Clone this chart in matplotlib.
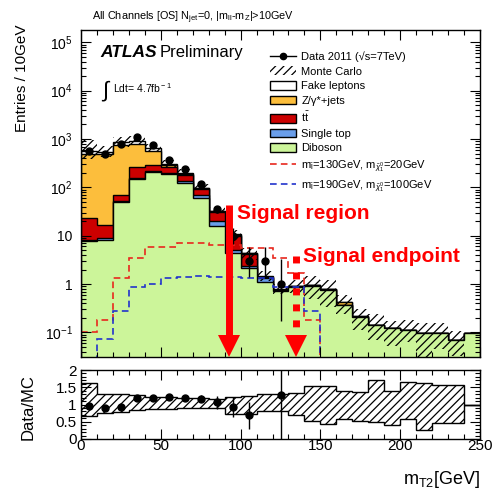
import math
import numpy as np
import matplotlib
matplotlib.use('Agg')
import matplotlib.pyplot as plt
import matplotlib.transforms as mtransforms
from matplotlib.patches import Patch
from matplotlib.lines import Line2D

plt.rcParams['font.family'] = ['Liberation Sans', 'DejaVu Sans']
plt.rcParams['mathtext.fontset'] = 'custom'
plt.rcParams['mathtext.rm'] = 'Liberation Sans'
plt.rcParams['mathtext.it'] = 'Liberation Sans:italic'
plt.rcParams['mathtext.bf'] = 'Liberation Sans:bold'
plt.rcParams['hatch.linewidth'] = 0.9

# --- data: mT2 in 10 GeV bins from 0 to 250 ---
edges = np.arange(0, 251, 10)

data = np.array([560, 490, 790, 1090, 760, 370, 240, 115, 35, 10, 3, 3, 1,
                 0, 0, 0, 0, 0, 0, 0, 0, 0, 0, 0, 0])

diboson = np.array([7.7, 8.0, 49, 150, 210, 185, 123, 60, 16, 4.3, 2.1, 1.1, 0.72,
                    0.88, 0.92, 0.76, 0.37, 0.21, 0.14, 0.125, 0.11, 0.098, 0.098, 0.07, 0.098])
single_top = np.array([0.5, 0.8, 4, 8, 10, 12, 10, 8, 4, 0.7, 0.3, 0.25, 0.03,
                       0.01, 0.01, 0.01, 0, 0, 0, 0, 0, 0, 0, 0, 0])
ttbar = np.array([15, 7.7, 15, 100, 65, 70, 45, 25, 11, 5, 1.7, 0.05, 0.02,
                  0.01, 0.01, 0.01, 0, 0, 0, 0, 0, 0, 0, 0, 0])
zjets = np.array([477, 485, 700, 550, 290, 20, 10, 2, 1, 0.5, 0.2, 0, 0,
                  0, 0, 0, 0.06, 0.01, 0, 0, 0, 0, 0, 0, 0])
fakes = np.array([77, 50, 90, 100, 70, 20, 12, 3, 1, 0.3, 0.1, 0.05, 0.01,
                  0, 0, 0, 0, 0, 0, 0, 0, 0, 0, 0, 0])

# relative MC uncertainty (as seen in the ratio panel)
unc_hi = np.array([1.63, 1.31, 1.31, 1.27, 1.23, 1.21, 1.2, 1.19, 1.17, 1.22, 1.25, 1.29, 1.31,
                   1.34, 1.55, 1.55, 1.38, 1.36, 1.72, 1.40, 1.65, 1.63, 1.56, 1.56, 1.0])
unc_lo = np.array([0.66, 0.76, 0.78, 0.84, 0.87, 0.88, 0.89, 0.9, 0.91, 0.73, 0.73, 0.8, 0.8,
                   0.71, 0.52, 0.44, 0.57, 0.52, 0.49, 0.42, 0.57, 0.25, 0.47, 0.47, 1.0])

# signal points
sig_130_20 = np.array([0.1, 0.18, 1.33, 3.4, 5.9, 5.9, 7.0, 7.0, 6.4, 6.4, 5.5, 5.5, 3.4,
                       1.7, 0.18, 0, 0, 0, 0, 0, 0, 0, 0, 0, 0])
sig_190_100 = np.array([0, 0.074, 0.28, 0.88, 1.0, 1.33, 1.4, 1.48, 1.4, 1.41, 1.35, 1.33, 0.88,
                        0.88, 0.28, 0, 0, 0, 0, 0, 0, 0, 0, 0, 0])

c_dib = '#CCF59A'
c_st = '#6A9EEA'
c_tt = '#CC0000'
c_z = '#FCBE3C'
c_fake = 'white'
c_sig1 = '#E8281E'
c_sig2 = '#2233CC'


def poisson_cdf(k, lam):
    if k < 0:
        return 0.0
    return sum(math.exp(i * math.log(lam) - lam - math.lgamma(i + 1)) for i in range(k + 1))


def poisson_interval(n, alpha=0.3173):
    # Garwood central interval for a Poisson count, by bisection
    top = n + 10 * math.sqrt(n + 1) + 10
    lo_, hi_ = 1e-9, top
    for _ in range(60):
        mid = 0.5 * (lo_ + hi_)
        if poisson_cdf(n, mid) > alpha / 2:
            lo_ = mid
        else:
            hi_ = mid
    upper = 0.5 * (lo_ + hi_)
    if n == 0:
        return 0.0, upper
    lo_, hi_ = 1e-9, top
    for _ in range(60):
        mid = 0.5 * (lo_ + hi_)
        if 1 - poisson_cdf(n - 1, mid) < alpha / 2:
            lo_ = mid
        else:
            hi_ = mid
    lower = 0.5 * (lo_ + hi_)
    return lower, upper


centers = 0.5 * (edges[:-1] + edges[1:])
total = diboson + single_top + ttbar + zjets + fakes

fig = plt.figure(figsize=(4.93, 4.91), dpi=100)
ax = fig.add_axes([81 / 493, 1 - 357 / 491, 399 / 493, 327 / 491])
rax = fig.add_axes([81 / 493, 1 - 439 / 491, 399 / 493, 69 / 491])

ax.set_yscale('log', nonpositive='clip')

# stacked backgrounds, drawn as cumulative histograms from the top down
layers = [(diboson, c_dib), (single_top, c_st), (ttbar, c_tt), (zjets, c_z), (fakes, c_fake)]
cum = np.cumsum([l[0] for l in layers], axis=0)
for k in range(len(layers) - 1, -1, -1):
    ax.stairs(cum[k], edges, baseline=1e-4, fill=True, facecolor=layers[k][1],
              edgecolor='black', linewidth=1.0)

# MC uncertainty band
ax.stairs(total * unc_hi, edges, baseline=total * unc_lo, fill=True, facecolor='none',
          edgecolor='black', hatch='////', linewidth=0)

# signal
ax.stairs(sig_130_20, edges, baseline=None, color=c_sig1, linestyle=(0, (4, 2.5)), linewidth=1.2)
ax.stairs(sig_190_100, edges, baseline=None, color=c_sig2, linestyle=(0, (4, 2.5)), linewidth=1.2)

# data
has = data > 0
err_lo, err_hi = [], []
for n in data[has]:
    lo, hi = poisson_interval(int(n))
    err_lo.append(n - lo)
    err_hi.append(hi - n)
ax.errorbar(centers[has], data[has], yerr=[err_lo, err_hi], fmt='o', color='black',
            markersize=5, elinewidth=1.0, capsize=0, zorder=5)

ax.set_xlim(0, 250)
ax.set_ylim(0.031, 1.8e5)
ax.set_yticks([1e-1, 1, 10, 1e2, 1e3, 1e4, 1e5])
ax.set_yticklabels(['$10^{-1}$', '1', '10', '$10^{2}$', '$10^{3}$', '$10^{4}$', '$10^{5}$'])
ax.set_xticks(np.arange(0, 251, 50))
ax.set_xticks(np.arange(0, 251, 10), minor=True)
ax.tick_params(axis='x', labelbottom=False)
for a in (ax, rax):
    a.tick_params(which='both', direction='in', top=True, right=True, width=0.8)
    a.tick_params(which='major', length=7)
    a.tick_params(which='minor', length=3.5)
    for s in a.spines.values():
        s.set_linewidth(1.0)
ax.tick_params(axis='y', labelsize=10, pad=6)

# ratio panel
rax.stairs(unc_hi, edges, baseline=unc_lo, fill=True, facecolor='none', edgecolor='black',
           hatch='////', linewidth=1.0)
ratio = np.where(total > 0, data / total, 0)
rerr = np.sqrt(data) / total
show = has & (ratio < 2)
rax.errorbar(centers[show], ratio[show], yerr=rerr[show], fmt='o', color='black',
             markersize=5, elinewidth=1.0, capsize=0, zorder=5)
rax.set_xlim(0, 250)
rax.set_ylim(0, 2)
rax.set_yticks([0, 0.5, 1, 1.5, 2])
rax.set_yticklabels(['0', '0.5', '1', '1.5', '2'])
rax.set_yticks(np.arange(0, 2.01, 0.1), minor=True)
rax.set_xticks(np.arange(0, 251, 50))
rax.set_xticks(np.arange(0, 251, 10), minor=True)
rax.tick_params(axis='both', labelsize=11)
rax.tick_params(axis='x', pad=0)
rax.tick_params(axis='y', pad=3)

# text
fig.text(92 / 493, 1 - 20 / 491, r'All Channels [OS] N$_{\rm jet}$=0, |m$_{\rm ll}$-m$_{\rm Z}$|>10GeV',
         fontsize=7.8, va='baseline', ha='left')
ax.text(0.048, 0.93, 'ATLAS', transform=ax.transAxes, fontsize=12.5, weight='bold', style='italic',
        va='center', ha='left')
ax.text(0.198, 0.93, 'Preliminary', transform=ax.transAxes, fontsize=12, va='center', ha='left')
ax.text(0.053, 0.813, '\u222b', transform=ax.transAxes, fontsize=16, va='center', ha='left')
ax.text(0.08, 0.823, r'Ldt= 4.7fb$^{\rm -1}$', transform=ax.transAxes, fontsize=7.5,
        va='center', ha='left')

fig.text(22 / 493, 1 - 25 / 491, 'Entries / 10GeV', rotation=90, fontsize=11, ha='center', va='top')
fig.text(28 / 493, 1 - 407 / 491, 'Data/MC', rotation=90, fontsize=12, ha='center', va='center')
fig.text(480 / 493, 1 - 479 / 491, r'm$_{\rm T2}$[GeV]', fontsize=13, ha='right', va='center')

# legend
handles = [
    Line2D([], [], color='black', marker='o', markersize=4.5, linewidth=1.0),
    Patch(facecolor='none', edgecolor='black', hatch='////', linewidth=0),
    Patch(facecolor=c_fake, edgecolor='black', linewidth=1.0),
    Patch(facecolor=c_z, edgecolor='black', linewidth=1.0),
    Patch(facecolor=c_tt, edgecolor='black', linewidth=1.0),
    Patch(facecolor=c_st, edgecolor='black', linewidth=1.0),
    Patch(facecolor=c_dib, edgecolor='black', linewidth=1.0),
    Line2D([], [], color=c_sig1, linestyle=(0, (4, 2.5)), linewidth=1.2),
    Line2D([], [], color=c_sig2, linestyle=(0, (4, 2.5)), linewidth=1.2),
]
labels = [
    'Data 2011 (\u221as=7TeV)',
    'Monte Carlo',
    'Fake leptons',
    'Z/\u03b3*+jets',
    r'$\rm t\bar{t}$',
    'Single top',
    'Diboson',
    r'm$_{\tilde{\rm l}}$=130GeV, m$_{\tilde{\chi}^{0}_{1}}$=20GeV',
    r'm$_{\tilde{\rm l}}$=190GeV, m$_{\tilde{\chi}^{0}_{1}}$=100GeV',
]
ax.legend(handles, labels, loc='upper left', bbox_to_anchor=(0.474, 0.935), frameon=False,
          fontsize=8, borderpad=0, borderaxespad=0, handlelength=2.3, handleheight=0.8,
          handletextpad=0.5, labelspacing=0.4)

# signal annotations
trans = mtransforms.blended_transform_factory(ax.transData, ax.transAxes)
ax.plot([92.5, 92.5], [0.465, 0.06], transform=trans, color='red', linewidth=5,
        solid_capstyle='butt', clip_on=False, zorder=6)
ax.plot([92.5], [0.034], transform=trans, marker='v', markersize=16, color='red',
        markeredgewidth=0, clip_on=False, zorder=6)
ax.plot([134.5, 134.5], [0.309, 0.075], transform=trans, color='red', linewidth=5,
        dashes=(1, 1.3), dash_capstyle='butt', clip_on=False, zorder=6)
ax.plot([134.5], [0.034], transform=trans, marker='v', markersize=16, color='red',
        markeredgewidth=0, clip_on=False, zorder=6)
ax.text(98, 0.44, 'Signal region', transform=trans, color='red', weight='bold', fontsize=15,
        va='center', ha='left', zorder=7)
ax.text(139, 0.306, 'Signal endpoint', transform=trans, color='red', weight='bold', fontsize=15,
        va='center', ha='left', zorder=7)

fig.savefig('out.png', dpi=100)
